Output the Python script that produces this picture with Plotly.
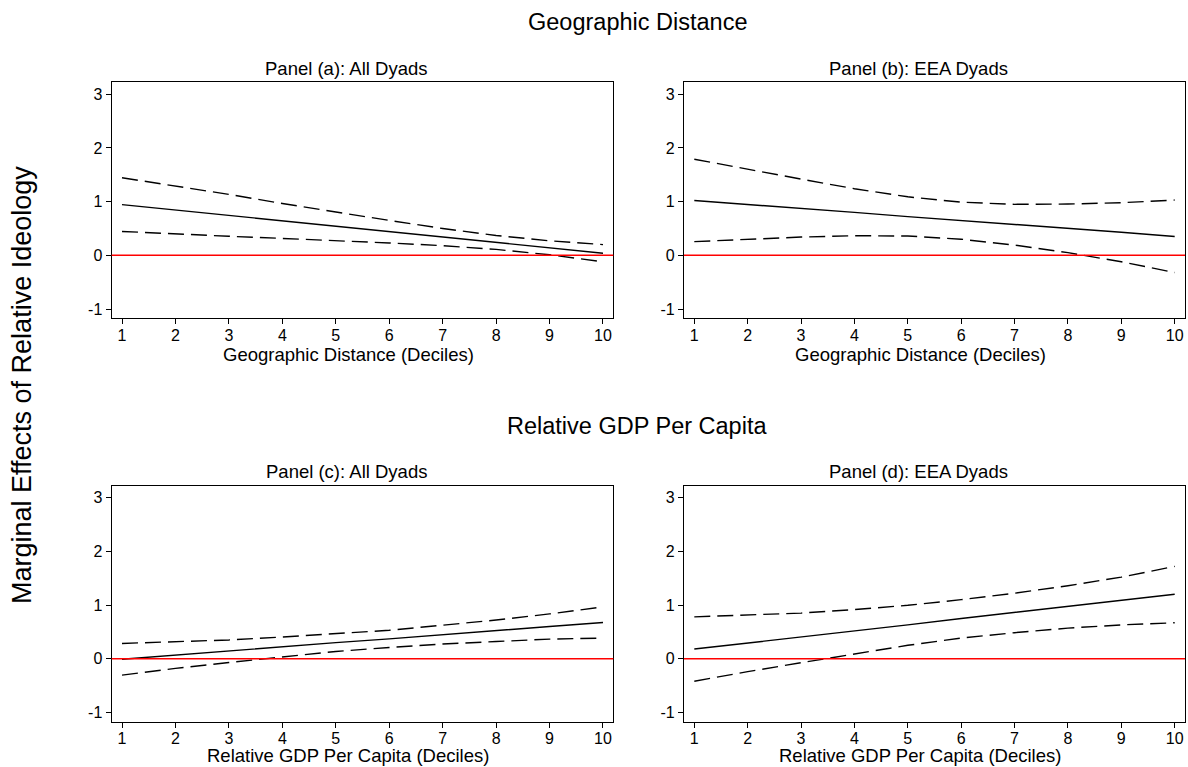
import plotly.graph_objects as go

# ---- data ----
deciles = [1, 2, 3, 4, 5, 6, 7, 8, 9, 10]
tick_vals_y = [-1, 0, 1, 2, 3]
tick_text_y = ["-1", "0", "1", "2", "3"]

a_mean  = [0.945, 0.845, 0.745, 0.64, 0.54, 0.44, 0.34, 0.24, 0.14, 0.04]
a_upper = [1.445, 1.295, 1.135, 0.965, 0.805, 0.65, 0.50, 0.37, 0.27, 0.20]
a_lower = [0.445, 0.395, 0.355, 0.315, 0.275, 0.23, 0.18, 0.11, 0.01, -0.12]

b_mean  = [1.02, 0.95, 0.87, 0.80, 0.72, 0.65, 0.57, 0.50, 0.43, 0.35]
b_upper = [1.79, 1.60, 1.42, 1.24, 1.09, 0.99, 0.95, 0.955, 0.98, 1.03]
b_lower = [0.255, 0.30, 0.34, 0.365, 0.36, 0.30, 0.19, 0.05, -0.12, -0.32]

c_mean  = [-0.01, 0.07, 0.14, 0.22, 0.30, 0.37, 0.45, 0.52, 0.60, 0.675]
c_upper = [0.285, 0.32, 0.35, 0.405, 0.465, 0.53, 0.625, 0.72, 0.835, 0.965]
c_lower = [-0.305, -0.18, -0.07, 0.035, 0.135, 0.21, 0.275, 0.32, 0.365, 0.385]

d_mean  = [0.18, 0.29, 0.41, 0.52, 0.63, 0.75, 0.86, 0.97, 1.09, 1.20]
d_upper = [0.78, 0.81, 0.85, 0.915, 0.995, 1.10, 1.22, 1.36, 1.52, 1.72]
d_lower = [-0.42, -0.24, -0.075, 0.09, 0.25, 0.385, 0.485, 0.57, 0.63, 0.67]

panel_titles = ["Panel (a): All Dyads", "Panel (b): EEA Dyads",
                "Panel (c): All Dyads", "Panel (d): EEA Dyads"]
x_titles = ["Geographic Distance (Deciles)", "Geographic Distance (Deciles)",
            "Relative GDP Per Capita (Deciles)", "Relative GDP Per Capita (Deciles)"]
super_titles = ["Geographic Distance", "Relative GDP Per Capita"]
y_title = "Marginal Effects of Relative Ideology"

# ---- layout geometry ----
W, H = 1188, 767
FONT = "Liberation Sans, Arial, Helvetica, sans-serif"


def px_x(p):
    return p / W


def px_y(p):
    return 1 - p / H


x_doms = [[px_x(111.7), px_x(613.3)], [px_x(684), px_x(1185)]]
y_doms = [[px_y(318.3), px_y(82.3)], [px_y(721.7), px_y(485.7)]]

panels = [
    (a_mean, a_upper, a_lower),
    (b_mean, b_upper, b_lower),
    (c_mean, c_upper, c_lower),
    (d_mean, d_upper, d_lower),
]

fig = go.Figure()
layout = dict(
    width=W, height=H, autosize=False,
    margin=dict(l=0, r=0, t=0, b=0),
    paper_bgcolor="white", plot_bgcolor="white",
    showlegend=False,
    font=dict(family=FONT, color="black"),
)

for i, (m, u, l) in enumerate(panels):
    n = i + 1
    xa = "x" if n == 1 else f"x{n}"
    ya = "y" if n == 1 else f"y{n}"
    for series, dash in ((u, "16px,7px"), (l, "16px,7px"), (m, "solid")):
        fig.add_trace(go.Scatter(
            x=deciles, y=series, mode="lines",
            line=dict(color="black", width=1.4, dash=dash),
            xaxis=xa, yaxis=ya, hoverinfo="skip",
        ))
    col = i % 2
    row = i // 2
    axis_common = dict(
        showgrid=False, zeroline=False,
        showline=True, linecolor="black", linewidth=1.3, mirror=True,
        ticks="outside", ticklen=5, tickwidth=1.1, tickcolor="black",
        tickfont=dict(size=16, family=FONT, color="black"),
    )
    layout["xaxis" if n == 1 else f"xaxis{n}"] = dict(
        axis_common, domain=x_doms[col], range=[0.807, 10.193],
        tickmode="array", tickvals=deciles, ticklabelstandoff=-3,
        anchor=ya,
    )
    layout["yaxis" if n == 1 else f"yaxis{n}"] = dict(
        axis_common, domain=y_doms[row], range=[-1.173, 3.223],
        tickmode="array", tickvals=tick_vals_y, ticktext=tick_text_y,
        anchor=xa,
    )

fig.update_layout(**layout)

# zero reference lines
for n in range(1, 5):
    xa = "x" if n == 1 else f"x{n}"
    ya = "y" if n == 1 else f"y{n}"
    fig.add_shape(type="line", xref=f"{xa} domain", yref=ya, x0=0, x1=1, y0=0, y1=0,
                  line=dict(color="#ff0000", width=1.5), layer="above")

annotations = []
title_cx = [346, 918]
title_cy = [68, 471.5]
xtitle_bottom = [367, 768]
for i, t in enumerate(panel_titles):
    annotations.append(dict(text=t, xref="paper", yref="paper",
                            x=px_x(title_cx[i % 2]), y=px_y(title_cy[i // 2]),
                            xanchor="center", yanchor="middle", showarrow=False,
                            font=dict(size=18.5, family=FONT, color="black")))
for i, t in enumerate(x_titles):
    annotations.append(dict(text=t, xref="paper", yref="paper",
                            x=px_x(title_cx[i % 2] + 2), y=px_y(xtitle_bottom[i // 2]),
                            xanchor="center", yanchor="bottom", showarrow=False,
                            font=dict(size=18.5, family=FONT, color="black")))
for j, t in enumerate(super_titles):
    annotations.append(dict(text=t, xref="paper", yref="paper",
                            x=px_x(637), y=px_y([22, 426][j]),
                            xanchor="center", yanchor="middle", showarrow=False,
                            font=dict(size=23.5, family=FONT, color="black")))
annotations.append(dict(text=y_title, xref="paper", yref="paper",
                        x=px_x(22), y=px_y(385), textangle=-90,
                        xanchor="center", yanchor="middle", showarrow=False,
                        font=dict(size=27, family=FONT, color="black")))
fig.update_layout(annotations=annotations)

fig.write_html("out.html", config={"displayModeBar": False},
               post_script="document.body.style.margin='0px';")
